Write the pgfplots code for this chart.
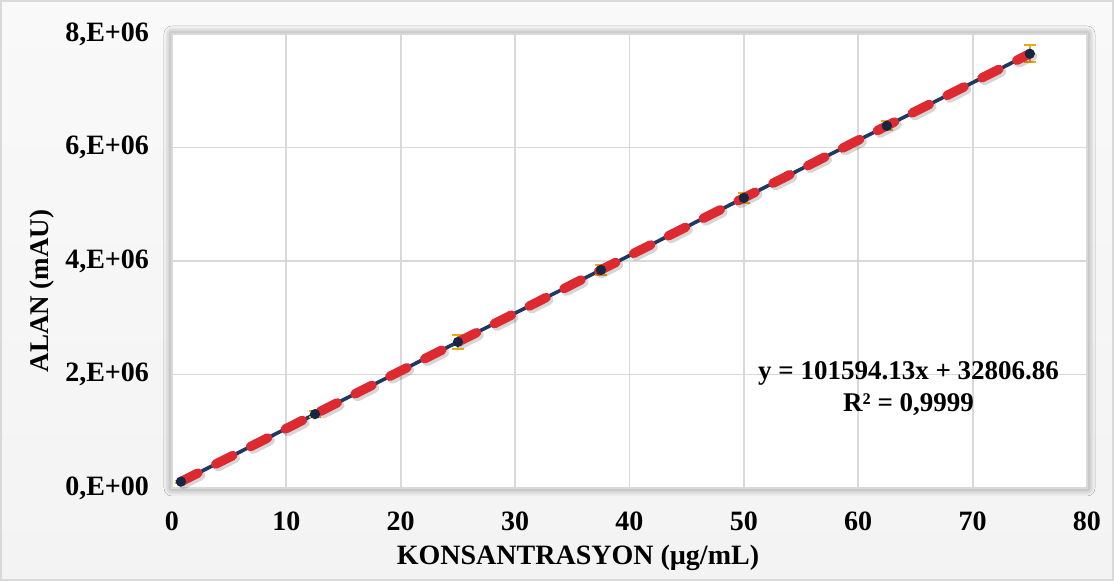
\documentclass[border=0pt]{standalone}
\usepackage{fontspec}
\setmainfont{Liberation Serif}
\usepackage{pgfplots}
\pgfplotsset{compat=1.18}
\usetikzlibrary{shadows.blur}

\definecolor{gridgray}{RGB}{217,217,217}
\definecolor{navy}{RGB}{31,56,100}
\definecolor{trendred}{RGB}{220,42,48}
\definecolor{errgold}{RGB}{235,170,20}
\definecolor{chartbg}{RGB}{243,243,243}

\begin{document}
\begin{tikzpicture}[x=1pt,y=1pt]
  % chart area
  \path[use as bounding box] (-86,-46.5) rectangle (471,244);
  \shade[top color=chartbg!50!white, bottom color=chartbg, draw=gridgray, line width=0.6pt]
    (-85.5,-46) rectangle (470.5,243.5);
  % plot area with soft shadow
  \fill[white, blur shadow={shadow xshift=0pt, shadow yshift=0pt, shadow blur radius=4pt, shadow opacity=55}]
    (0,0) rectangle (457.5,227);

  \begin{axis}[
    at={(0,0)}, anchor=south west,
    scale only axis, width=457.5pt, height=227pt,
    xmin=0, xmax=80, ymin=0, ymax=8e6,
    scaled y ticks=false,
    xtick={0,10,...,80},
    xticklabels={\textbf{0},\textbf{10},\textbf{20},\textbf{30},\textbf{40},\textbf{50},\textbf{60},\textbf{70},\textbf{80}},
    ytick={0,2e6,4e6,6e6,8e6},
    yticklabels={\textbf{0,E+00},\textbf{2,E+06},\textbf{4,E+06},\textbf{6,E+06},\textbf{8,E+06}},
    ticklabel style={font=\fontsize{14}{16}\selectfont},
    xticklabel style={yshift=-8.5pt},
    yticklabel style={xshift=-8pt},
    major tick length=0pt,
    grid=major,
    major grid style={gridgray, line width=0.9pt},
    axis line style={gridgray, line width=0.9pt},
    clip=false,
  ]
    % measured series with error bars
    \addplot[navy, line width=1.8pt, mark=*, mark size=1.6pt,
             mark options={fill=navy!70!black, draw=navy!70!black},
             error bars/.cd, y dir=both, y explicit,
             error bar style={errgold, line width=0.9pt},
             error mark options={errgold, line width=0.9pt, mark size=3pt, rotate=90}]
      table[y error=err] {
        x      y        err
        0.78   112000   20000
        12.5   1302000  50000
        25     2573000  125000
        37.5   3843000  90000
        50     5112000  90000
        62.5   6382000  80000
        75     7652000  150000
      };
    % shadow of the linear trend line
    \addplot[black, opacity=0.16, line width=5pt, line cap=round,
             dash pattern=on 9.5pt off 10pt, transform canvas={xshift=1.2pt, yshift=-1.2pt}]
      coordinates {(0.78,112050) (75,7652367)};
    % linear trend line
    \addplot[trendred, line width=4.7pt, line cap=round, dash pattern=on 9.5pt off 10pt]
      coordinates {(0.78,112050) (75,7652367)};

    \node[align=center, font=\bfseries\fontsize{13.5}{16}\selectfont, inner sep=0pt]
      at (axis cs:64.4,1.76e6) {y = 101594.13x + 32806.86\\[0pt]R² = 0,9999};
  \end{axis}

  \node[font=\bfseries\fontsize{14}{16}\selectfont] at (203,-35) {KONSANTRASYON (µg/mL)};
  \node[font=\bfseries\fontsize{13.5}{16}\selectfont, rotate=90] at (-65,98.5) {ALAN (mAU)};
\end{tikzpicture}
\end{document}
